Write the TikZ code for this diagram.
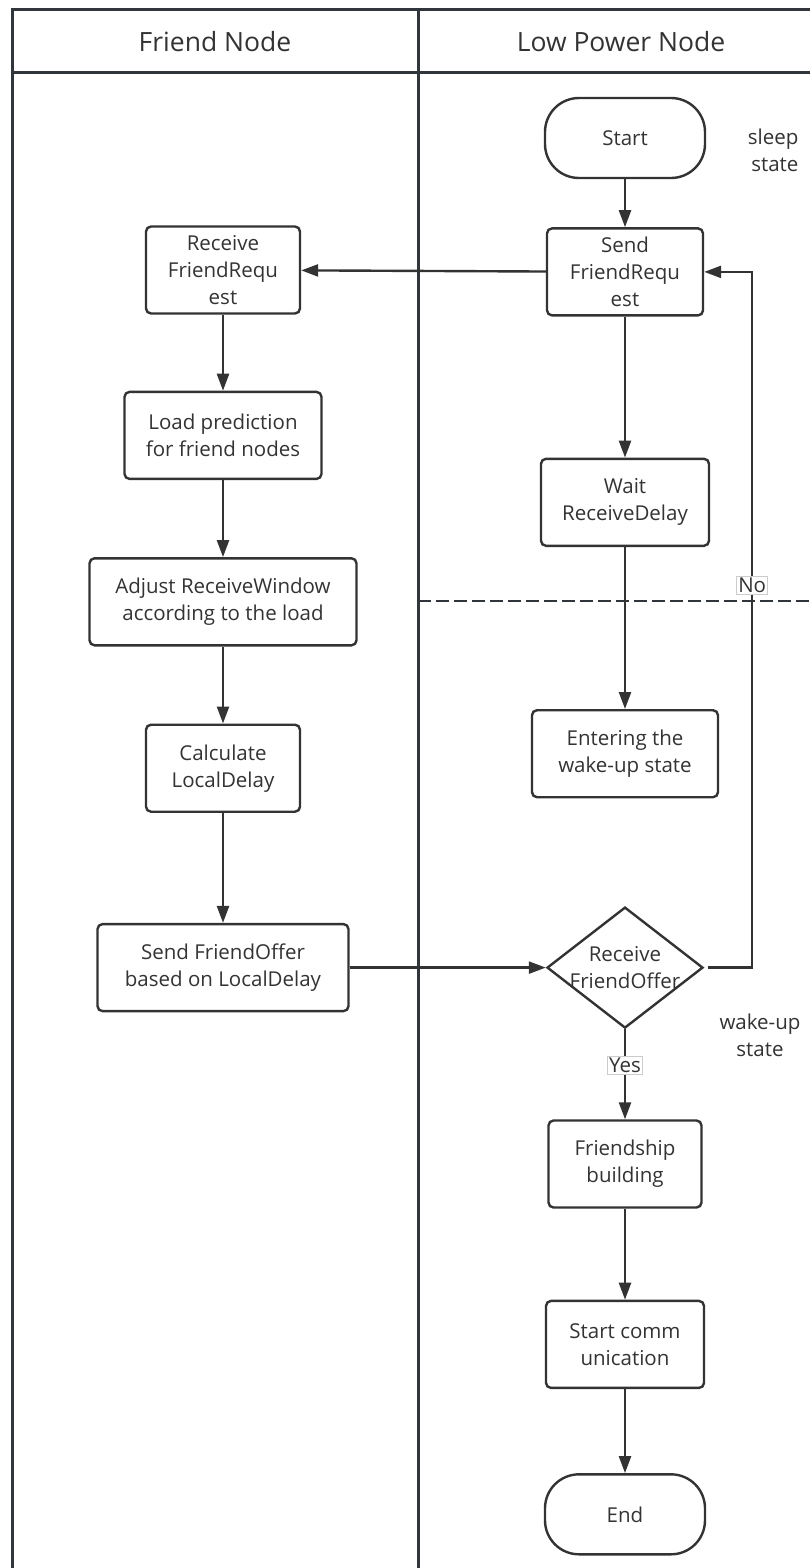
\documentclass[tikz,border=0pt]{standalone}
\usepackage{fontspec}
\setmainfont{Open Sans}
\usepackage{xcolor}
\usetikzlibrary{shapes.geometric, arrows.meta, positioning}
\definecolor{inkgray}{HTML}{333333}
\definecolor{lanegray}{HTML}{30363B}

\begin{document}
\begin{tikzpicture}[
    x=1pt, y=-1pt,
    node distance=48pt,
    every node/.style={text=inkgray, font=\fontsize{20.5}{27}\selectfont},
    proc_box/.style={rectangle, rounded corners=5pt, draw=inkgray, line width=2.4pt, minimum height=87pt, align=center, inner sep=2pt},
    term_box/.style={rectangle, rounded corners=34pt, draw=inkgray, line width=2.4pt, minimum width=160pt, minimum height=80pt, align=center},
    decision/.style={diamond, draw=inkgray, line width=2.4pt, minimum width=156pt, minimum height=121pt, inner sep=0pt},
    lane/.style={draw=lanegray, line width=3pt},
    tag/.style={fill=white, draw=gray!40, line width=0.6pt, inner sep=1.5pt},
    arrow/.style={-{Triangle[length=17pt, width=12pt]}, draw=inkgray, line width=2.4pt}
]
\useasboundingbox (0,0) rectangle (810,1568);

% swimlanes
\draw [lane] (12,1568) -- (12,10) -- (810,10);
\draw [lane] (12,73) -- (810,73);
\draw [lane] (418,10) -- (418,1568);
\draw [lanegray, line width=2.4pt, dash pattern=on 13pt off 5pt] (418,601) -- (810,601);
\node (h_friend) at (215,42) {\fontsize{26.5}{30}\selectfont Friend Node};
\node (h_lpn) at (621,42) {\fontsize{26.5}{30}\selectfont Low Power Node};

% low power node
\node (start) [term_box] at (625,138) {Start};
\node (send_req) [proc_box, minimum width=156pt, below=48pt of start] {Send\\FriendRequ\\est};
\node (wait) [proc_box, minimum width=168pt, below=141pt of send_req] {Wait\\ReceiveDelay};
\node (enter) [proc_box, minimum width=186pt, below=162pt of wait] {Entering the\\wake-up state};

% friend node
\node (recv_req) [proc_box, minimum width=154pt] at (223,270) {Receive\\FriendRequ\\est};
\node (load) [proc_box, minimum width=197pt, below=76pt of recv_req] {Load prediction\\for friend nodes};
\node (adjust) [proc_box, minimum width=267pt, below=77pt of load] {Adjust ReceiveWindow\\according to the load};
\node (calc) [proc_box, minimum width=154pt, below=77pt of adjust] {Calculate\\LocalDelay};
\node (send_offer) [proc_box, minimum width=251pt, below=110pt of calc] {Send FriendOffer\\based on LocalDelay};

\node (recv_offer) [decision, label={[align=center]center:Receive\\FriendOffer}] at (send_req |- send_offer) {};
\node (friendship) [proc_box, minimum width=153pt, below=90pt of recv_offer] {Friendship\\building};
\node (start_comm) [proc_box, minimum width=158pt, below=91pt of friendship] {Start comm\\unication};
\node (end) [term_box, below=84pt of start_comm] {End};

\node (sleep_lbl) [align=right, anchor=east] at (802,150) {sleep\\state};
\node (wake_lbl) [align=center] at (760,1035) {wake-up\\state};

\draw [arrow] (start) -- (send_req);
\draw [arrow] (send_req) -- (recv_req);
\draw [arrow] (send_req) -- (wait);
\draw [arrow] (wait) -- (enter);
\draw [arrow] (recv_req) -- (load);
\draw [arrow] (load) -- (adjust);
\draw [arrow] (adjust) -- (calc);
\draw [arrow] (calc) -- (send_offer);
\draw [arrow] (send_offer) -- (recv_offer);
\draw [arrow] (recv_offer) -- node [tag, pos=0.4] {Yes} (friendship);
\draw [arrow, shorten <=4pt] (recv_offer.east) -- ++(48,0) |- node [tag, pos=0.275] {No} (send_req.east);
\draw [arrow] (friendship) -- (start_comm);
\draw [arrow] (start_comm) -- (end);
\end{tikzpicture}
\end{document}
